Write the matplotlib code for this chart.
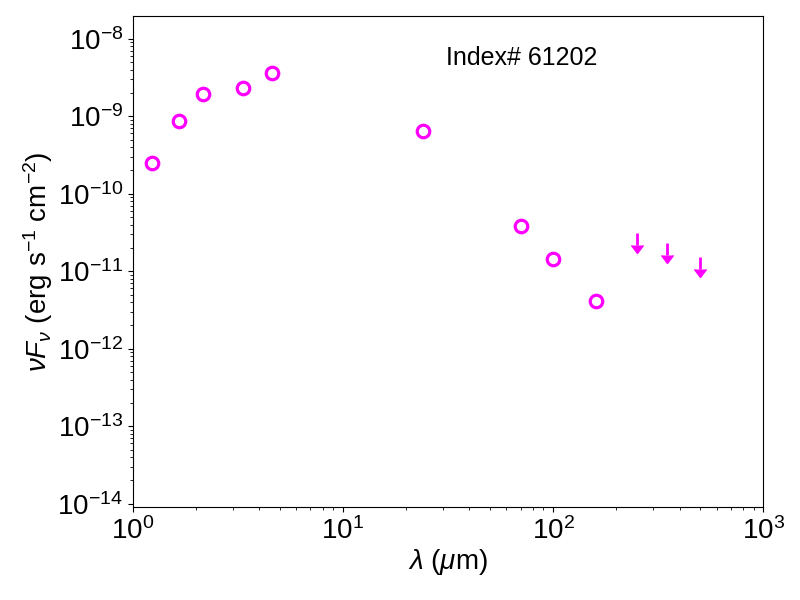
import matplotlib
matplotlib.use('Agg')
import matplotlib.pyplot as plt
import numpy as np

plt.rcParams['font.family'] = ['Liberation Sans', 'DejaVu Sans']
plt.rcParams['mathtext.fontset'] = 'custom'
plt.rcParams['mathtext.rm'] = 'Liberation Sans'
plt.rcParams['mathtext.it'] = 'Liberation Sans:italic'
plt.rcParams['mathtext.bf'] = 'Liberation Sans:bold'

# detections
wave = [1.235, 1.662, 2.159, 3.35, 4.6, 24.0, 70.0, 100.0, 160.0]
nufnu = [2.52e-10, 8.57e-10, 1.91e-9, 2.29e-9, 3.58e-9, 6.35e-10,
         3.86e-11, 1.44e-11, 4.14e-12]

# upper limits
wave_ul = [250.0, 350.0, 500.0]
nufnu_ul = [3.14e-11, 2.33e-11, 1.54e-11]

xticks = [1, 10, 100, 1000]
yticks = [1e-14, 1e-13, 1e-12, 1e-11, 1e-10, 1e-9, 1e-8]

MAGENTA = '#FF00FF'

fig = plt.figure(figsize=(8, 6), dpi=100)
ax = fig.add_axes([0.166, 0.155, 0.788, 0.818])

ax.plot(wave, nufnu, 'o', mfc='none', mec=MAGENTA, ms=9, mew=2.3)

# upper-limit arrows: shaft plus down caret at the shaft end
ul = np.array(nufnu_ul)
ul_end = ul * 0.70
ax.vlines(wave_ul, ul_end, ul, color=MAGENTA, lw=2.0)
ax.plot(wave_ul, ul_end, ls='none', marker=matplotlib.markers.CARETDOWNBASE,
        color=MAGENTA, ms=8)

ax.set_xscale('log')
ax.set_yscale('log')
ax.set_xticks(xticks)
ax.set_yticks(yticks)
ax.set_xlim(1, 1000)
ax.set_ylim(9.1e-15, 1.95e-8)

ax.set_xlabel(r'$\lambda$ ($\mu$m)', fontsize=20, labelpad=2)
ax.set_ylabel(r'$\nu F_{\nu}$ (erg s$^{-1}$ cm$^{-2}$)', fontsize=20, labelpad=2)
ax.tick_params(axis='both', which='major', labelsize=20)

ax.text(0.617, 0.915, 'Index# 61202', transform=ax.transAxes,
        ha='center', va='center', fontsize=18)

fig.savefig('out.png', dpi=100)
